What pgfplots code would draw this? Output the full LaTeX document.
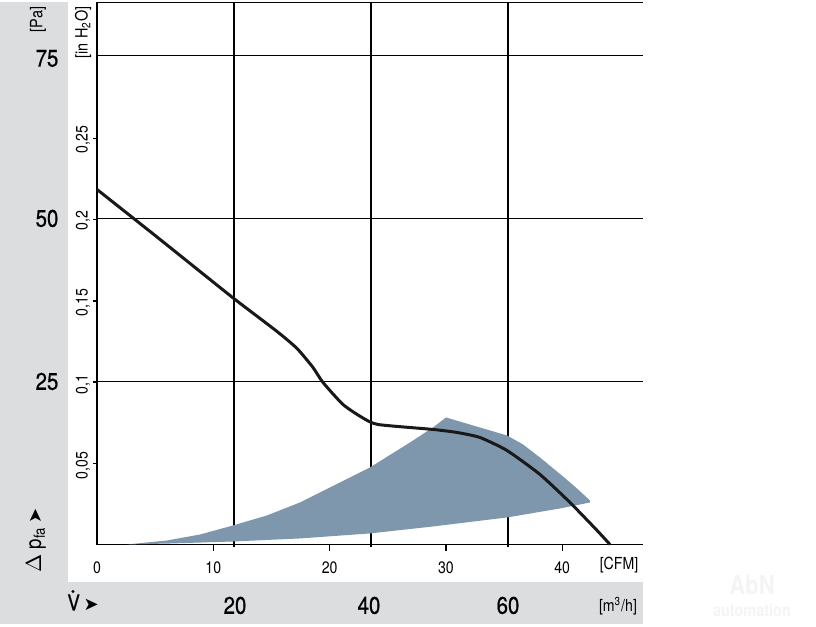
\documentclass[border=0pt]{standalone}
\usepackage{fontspec}
\setmainfont{TeX Gyre Heros}[FakeStretch=0.85]
\newfontfamily\numfont{TeX Gyre Heros}[FakeStretch=0.85,FakeBold=0.6]
\newfontfamily\dingfont{DejaVu Sans}
\usepackage{pgfplots}
\pgfplotsset{compat=1.18}
\definecolor{band}{RGB}{220,221,223}
\definecolor{fanarea}{RGB}{126,151,173}
\definecolor{curvecol}{RGB}{25,25,25}
\definecolor{wm2}{RGB}{244,244,244}

\pgfplotstableread{
x y
2.58 0
6.02 0.61
8.86 1.53
11.69 2.91
14.62 4.45
17.45 6.44
20.89 9.51
23.47 11.81
26.91 15.64
28.89 17.94
30.01 19.48
32.93 17.94
35.25 16.72
36.63 15.34
38.09 13.34
40.07 10.43
41.27 8.59
42.39 6.75
42.39 6.44
39.81 5.52
35.25 4.14
28.89 2.76
23.47 1.69
17.45 0.92
11.78 0.46
6.36 0.15
2.58 0
}\areatable

\pgfplotstableread{
x y
0 54.45
4.56 48.01
8.00 43.10
11.87 37.58
15.48 32.67
17.20 30.06
18.57 27.15
19.43 24.85
21.15 21.47
22.79 19.48
24.16 18.40
28.89 17.64
30.95 17.18
32.93 16.41
35.25 14.42
38.09 10.74
40.67 6.44
43.00 2.15
44.11 0
}\curvetable

\begin{document}
\begin{tikzpicture}
\begin{scope}[x=0.5pt,y=-0.5pt,shift={(-48.5pt,271pt)}]
\path (0,0) rectangle (816,624);
\fill[band] (0,0) rectangle (68,580);
\fill[band] (0,580) rectangle (643,622);
% faint watermark
\node[text=wm2,font=\bfseries\fontsize{13}{14}\selectfont] at (752,583) {AbN};
\node[text=wm2,font=\bfseries\fontsize{8.5}{9}\selectfont] at (752,608) {automation};
% grid
\draw[line width=0.65pt] (97,0) -- (643,0);
\foreach \y in {53,216,379} \draw[line width=0.65pt] (97,\y) -- (643,\y);
\foreach \x in {234,371,508} \draw[line width=0.65pt] (\x,0) -- (\x,545);
\draw[line width=0.65pt] (97,0) -- (97,542) -- (643,542);
\foreach \x in {213.3,329.6,445.9,562.2} \draw[line width=0.65pt] (\x,542) -- (\x,549);
\foreach \y in {136,217,298.5,379.6,461} \draw[line width=0.6pt] (93,\y) -- (97,\y);
\end{scope}

\begin{axis}[at={(0pt,0pt)}, anchor=south west, width=273pt, height=271pt,
  scale only axis, xmin=0, xmax=46.95, ymin=0, ymax=83.13, hide axis, clip=false]
\addplot[fill=fanarea, draw=none] table {\areatable} -- cycle;
\addplot[curvecol, line width=1.5pt, smooth, tension=0.35] table {\curvetable};
\end{axis}

\begin{scope}[x=0.5pt,y=-0.5pt,shift={(-48.5pt,271pt)}]
\node[rotate=90,font=\fontsize{8.5}{10}\selectfont] at (38,17) {[Pa]};
\node[rotate=90,font=\fontsize{8.5}{10}\selectfont] at (83,30) {[in H\textsubscript{2}O]};
\foreach \y/\l in {56/75,216/50,379/25}
  \node[font=\numfont\fontsize{12}{14}\selectfont] at (47,\y) {\l};
\foreach \y/\l in {137/{0,25},218/{0,2},300/{0,15},382/{0,1},463/{0,05}}
  \node[rotate=90,font=\fontsize{8.3}{10}\selectfont] at (83,\y) {\l};
\foreach \x/\l in {97/0,213.3/10,329.6/20,445.9/30,562.2/40}
  \node[font=\fontsize{8.3}{10}\selectfont] at (\x,565) {\l};
\node[font=\fontsize{8.3}{10}\selectfont] at (619,563) {[CFM]};
\foreach \x/\l in {235/20,369/40,508/60}
  \node[font=\numfont\fontsize{12}{14}\selectfont] at (\x,603) {\l};
\node[font=\fontsize{8.3}{10}\selectfont] at (618,604) {[m\textsuperscript{3}/h]};
\node[font=\numfont\fontsize{11}{13}\selectfont, anchor=base west, inner sep=0pt] at (67,608) {V\,{\dingfont\fontsize{9}{10}\selectfont ➤}};
\fill (73,589) circle[radius=1.6];
\node[rotate=90,font=\fontsize{11}{13}\selectfont] at (36,538) {\(\Delta\) p\textsubscript{fa}\,{\dingfont\fontsize{9}{10}\selectfont ➤}};
\end{scope}
\end{tikzpicture}
\end{document}
